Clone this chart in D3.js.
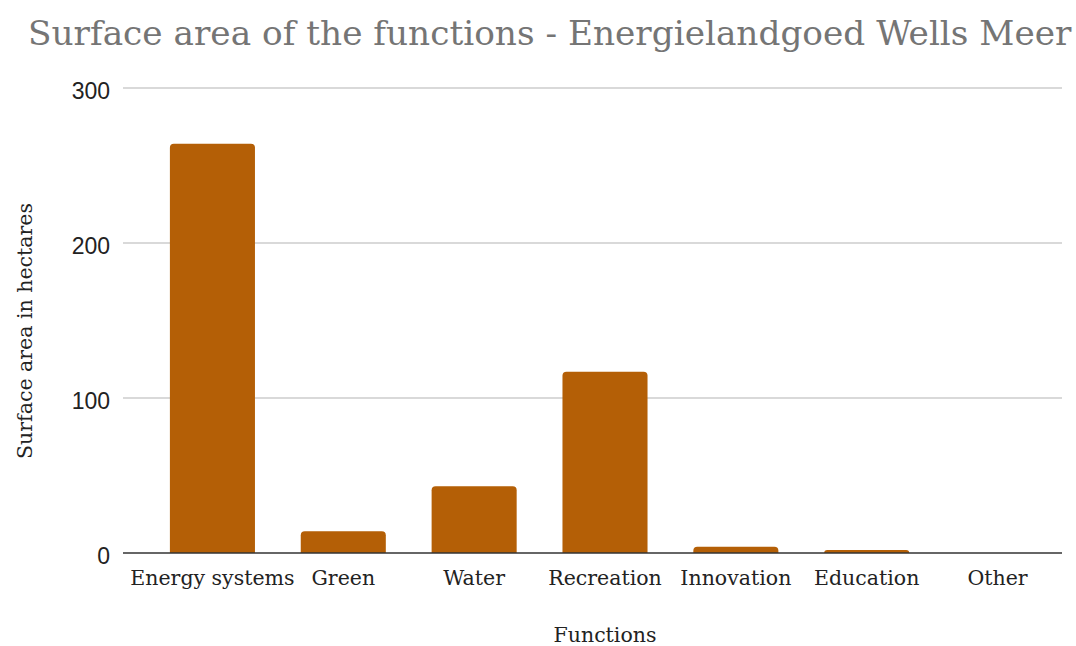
<!DOCTYPE html>
<html>
<head>
<meta charset="utf-8">
<script src="https://cdn.jsdelivr.net/npm/d3@7"></script>
<style>
  html, body { margin: 0; padding: 0; background: #fff; }
  svg { display: block; }
</style>
</head>
<body>
<svg id="chart" width="1076" height="646"></svg>
<script>
// Surface area per function, in hectares
const categories = ["Energy systems", "Green", "Water", "Recreation", "Innovation", "Education", "Other"];
const areas = [264, 14, 43, 117, 4, 2, 0];
const yTicks = [0, 100, 200, 300];

const titleText = "Surface area of the functions - Energielandgoed Wells Meer";
const yLabel = "Surface area in hectares";
const xLabel = "Functions";

const serif = "'DejaVu Serif', 'Liberation Serif', serif";
const sans = "'Liberation Sans', Arial, sans-serif";

const svg = d3.select("#chart");

const x = d3.scaleBand()
  .domain(categories)
  .range([147, 1063])
  .paddingInner(0.35)
  .paddingOuter(0.175);

const y = d3.scaleLinear().domain([0, 300]).range([553, 88]);

// Gridlines
svg.append("g")
  .selectAll("line")
  .data(yTicks.filter(d => d !== 0))
  .join("line")
  .attr("x1", 123).attr("x2", 1062)
  .attr("y1", d => y(d)).attr("y2", d => y(d))
  .attr("stroke", "#cccccc").attr("stroke-width", 1.5);

// Y tick labels
svg.append("g")
  .selectAll("text")
  .data(yTicks)
  .join("text")
  .attr("x", 110)
  .attr("y", d => y(d) + 11)
  .attr("text-anchor", "end")
  .attr("font-family", sans)
  .attr("font-size", 23)
  .attr("fill", "#222")
  .text(d => d);

// Bars with rounded top corners
const r = 4;
function barPath(d) {
  const x0 = x(d.cat), w = x.bandwidth();
  const y0 = y(0), y1 = y(d.v);
  const h = y0 - y1;
  if (h <= 0) return "";
  const rr = Math.min(r, h, w / 2);
  return `M${x0},${y0}V${y1 + rr}Q${x0},${y1} ${x0 + rr},${y1}H${x0 + w - rr}Q${x0 + w},${y1} ${x0 + w},${y1 + rr}V${y0}Z`;
}

svg.append("g")
  .selectAll("path")
  .data(categories.map((c, i) => ({ cat: c, v: areas[i] })))
  .join("path")
  .attr("d", barPath)
  .attr("fill", "#b45f06");

// Baseline
svg.append("line")
  .attr("x1", 123).attr("x2", 1062)
  .attr("y1", y(0)).attr("y2", y(0))
  .attr("stroke", "#333").attr("stroke-width", 1.5);

// Category labels
svg.append("g")
  .selectAll("text")
  .data(categories)
  .join("text")
  .attr("x", d => x(d) + x.bandwidth() / 2)
  .attr("y", 585)
  .attr("text-anchor", "middle")
  .attr("font-family", serif)
  .attr("font-size", 20.5)
  .attr("fill", "#222")
  .text(d => d);

// Axis titles
svg.append("text")
  .attr("x", 605).attr("y", 642)
  .attr("text-anchor", "middle")
  .attr("font-family", serif)
  .attr("font-size", 20.5)
  .attr("fill", "#222")
  .text(xLabel);

svg.append("text")
  .attr("transform", "translate(32,331) rotate(-90)")
  .attr("text-anchor", "middle")
  .attr("font-family", serif)
  .attr("font-size", 20.5)
  .attr("fill", "#222")
  .text(yLabel);

// Chart title
svg.append("text")
  .attr("x", 28).attr("y", 45)
  .attr("font-family", serif)
  .attr("font-size", 34.3)
  .attr("fill", "#757575")
  .text(titleText);
</script>
</body>
</html>
